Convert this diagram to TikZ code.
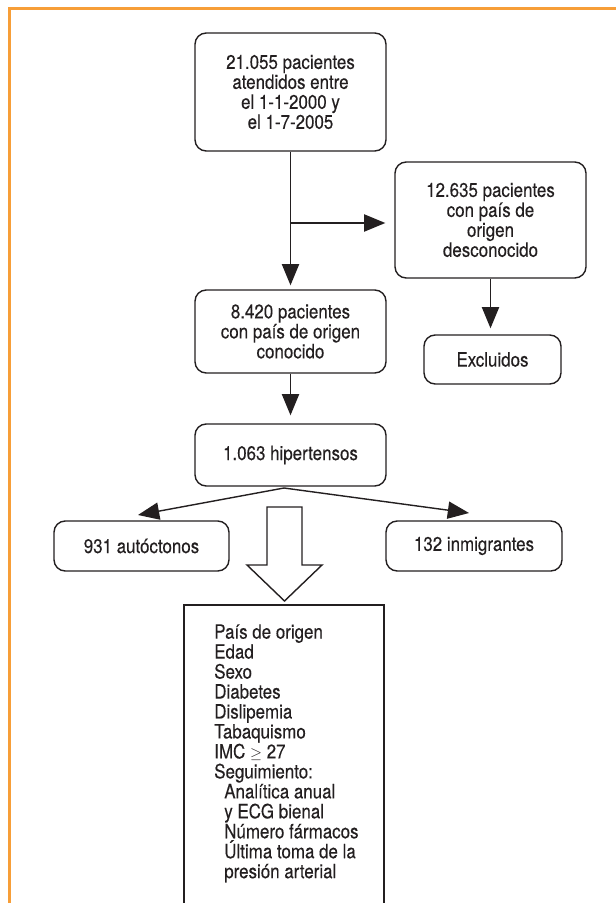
\documentclass[tikz,border=0pt]{standalone}
\usepackage{fontspec}
\setmainfont{TeX Gyre Heros}[FakeStretch=0.86, FakeBold=0.2]
\usepackage{tikz}
\usetikzlibrary{arrows,arrows.meta,shapes,positioning}
\definecolor{naranja}{RGB}{247,158,56}
\definecolor{tinta}{RGB}{35,31,32}

\begin{document}
\begin{tikzpicture}[
    letra/.style={font=\fontsize{14pt}{14.2pt}\selectfont, text=tinta},
    caja/.style={letra, draw=tinta, line width=1pt, rounded corners=0.28cm,
      align=center, inner sep=0pt, minimum width=4.775cm},
    flecha/.style={draw=tinta, line width=1pt,
      -{Triangle[length=5.3mm,width=4.3mm]}}]
  \useasboundingbox (0,0) rectangle (15.375,-22.575);
  %orange frame
  \draw[naranja, line width=0.075cm] (15.5,-0.2125) -- (0.2425,-0.2125) -- (0.2425,-23);
  %boxes of the flow
  \node[caja, minimum height=2.95cm] (pac) at (7.2625,-2.3)
    {21.055 pacientes\\ atendidos entre\\ el 1-1-2000 y\\ el 1-7-2005};
  \node[caja, minimum height=2.9cm] (desc) at (12.2625,-5.5)
    {12.635 pacientes\\ con país de\\ origen\\ desconocido};
  \node[caja, minimum height=2.075cm] (conoc) at (7.2625,-8.2875)
    {8.420 pacientes\\ con país de origen\\ conocido};
  \node[caja, minimum width=3.425cm, minimum height=1.225cm] (excl) at (12.3125,-8.9875) {Excluidos};
  \node[caja, minimum height=1.55cm] (hta) at (7.2625,-11.375) {1.063 hipertensos};
  \node[caja, minimum width=4.375cm, minimum height=1.25cm] (auto) at (3.5375,-13.65) {931 autóctonos};
  \node[caja, minimum width=4.4cm, minimum height=1.25cm] (inmi) at (11.85,-13.65) {132 inmigrantes};
  %branch points
  \coordinate (rama) at (7.2625,-5.575);
  \coordinate (div) at (7.1,-12.2);
  \coordinate (pA) at (3.45,-12.875);
  \coordinate (pB) at (11.725,-12.825);
  \begin{scope}[every path/.style={flecha}]
    \draw[shorten >=0.1cm] (pac) -- (conoc);
    \draw[shorten >=0.225cm] (rama) -- (desc.west |- rama);
    \draw[shorten >=0.15cm] (desc.south) -- (desc.south |- excl.north);
    \draw[shorten >=0.2cm] (conoc) -- (hta);
    \draw (div) -- (pA);
    \draw (div) -- (pB);
  \end{scope}
  %big hollow arrow
  \draw[tinta, line width=1pt] (6.675,-12.675) -- (7.55,-12.675) -- (7.55,-14.125)
    -- (8.05,-14.125) -- (7.1125,-15.025) -- (6.175,-14.125) -- (6.675,-14.125) -- cycle;
  %open box of variables
  \draw[tinta, line width=1pt] (4.6,-23) -- (4.6,-15.125) -- (9.6,-15.125) -- (9.6,-23);
  \node[letra, anchor=north west, align=left, inner sep=0pt] (vars) at (5.35,-15.6)
    {País de origen\\ Edad\\ Sexo\\ Diabetes\\ Dislipemia\\ Tabaquismo\\
     IMC {\fontsize{11pt}{11pt}\selectfont$\geq$} 27\\ Seguimiento:\\
     \hspace*{0.25cm}Analítica anual\\ \hspace*{0.25cm}y ECG bienal\\
     \hspace*{0.25cm}Número fármacos\\ \hspace*{0.25cm}Última toma de la\\
     \hspace*{0.25cm}presión arterial};
\end{tikzpicture}
\end{document}
